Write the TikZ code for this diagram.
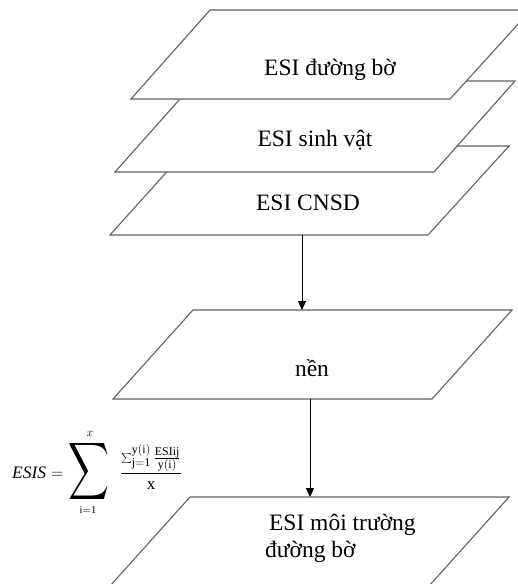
\documentclass[tikz,border=0pt]{standalone}
\usepackage{fontspec}
\usepackage{graphicx}
\setmainfont{Liberation Serif}
\usetikzlibrary{arrows.meta}

\tikzset{
  layer/.style={draw=black!62, line width=1.1pt, fill=white, line join=miter},
  lbl/.style={font=\fontsize{23.5}{27}\selectfont, inner sep=0pt},
  flow/.style={draw=black, line width=1pt, -{Triangle[length=9pt,width=8pt]}},
  eq/.style={inner sep=0pt}
}

\begin{document}
\begin{tikzpicture}[x=1pt,y=-1pt]
  \useasboundingbox (0,0) rectangle (518,584);
  \clip (0,0) rectangle (518,584);

  % layers, drawn from bottom to top so that upper ones cover lower ones
  \draw[layer] (190,497) -- (509,497) -- (429,586) -- (110,586) -- cycle;
  \draw[layer] (193,310) -- (512,310) -- (432,399) -- (113,399) -- cycle;
  \draw[layer] (190,146) -- (509,146) -- (428,235) -- (110,235) -- cycle;
  \draw[layer] (196,81) -- (515,81) -- (434,172) -- (115,172) -- cycle;
  \draw[layer] (210,10) -- (531,10) -- (450,99) -- (131,99) -- cycle;

  % labels
  \node[lbl] (l1) at (330,70) {ESI đường bờ};
  \node[lbl] (l2) at (315,140) {ESI sinh vật};
  \node[lbl] (l3) at (308,203) {ESI CNSD};
  \node[lbl] (l4) at (312,368) {nền};
  \node[lbl, align=left, anchor=north west] (l5) at (265,514) {\,ESI môi trường\\đường bờ};

  % connector end points on the layer edges
  \coordinate (c3b) at (302,235);
  \coordinate (c4t) at (302,310);
  \coordinate (c4b) at (310,399);
  \coordinate (c5t) at (310,497);
  \draw[flow] (c3b) -- (c4t);
  \draw[flow] (c4b) -- (c5t);

  % ESIS formula
  \node[eq, anchor=base west, font=\fontsize{17.5}{20}\selectfont] (lhs) at (12,478) {$\mathit{ESIS} =$};
  \node[eq] (sig) at (89.5,471.5) {\resizebox*{41pt}{64pt}{$\displaystyle\sum$}};
  \node[eq, font=\fontsize{12}{14}\selectfont, anchor=south] (sup) at (90,437) {$x$};
  \node[eq, font=\fontsize{10.5}{12}\selectfont, anchor=north] (sub) at (88,506) {$\mathrm{i{=}1}$};
  \node[eq, font=\fontsize{17}{20}\selectfont] (frac) at (151,467)
    {$\displaystyle\frac{\sum_{\mathrm{j=1}}^{\mathrm{y(i)}}\frac{\mathrm{ESIij}}{\mathrm{y(i)}}}{\mathrm{x}}$};
\end{tikzpicture}
\end{document}
